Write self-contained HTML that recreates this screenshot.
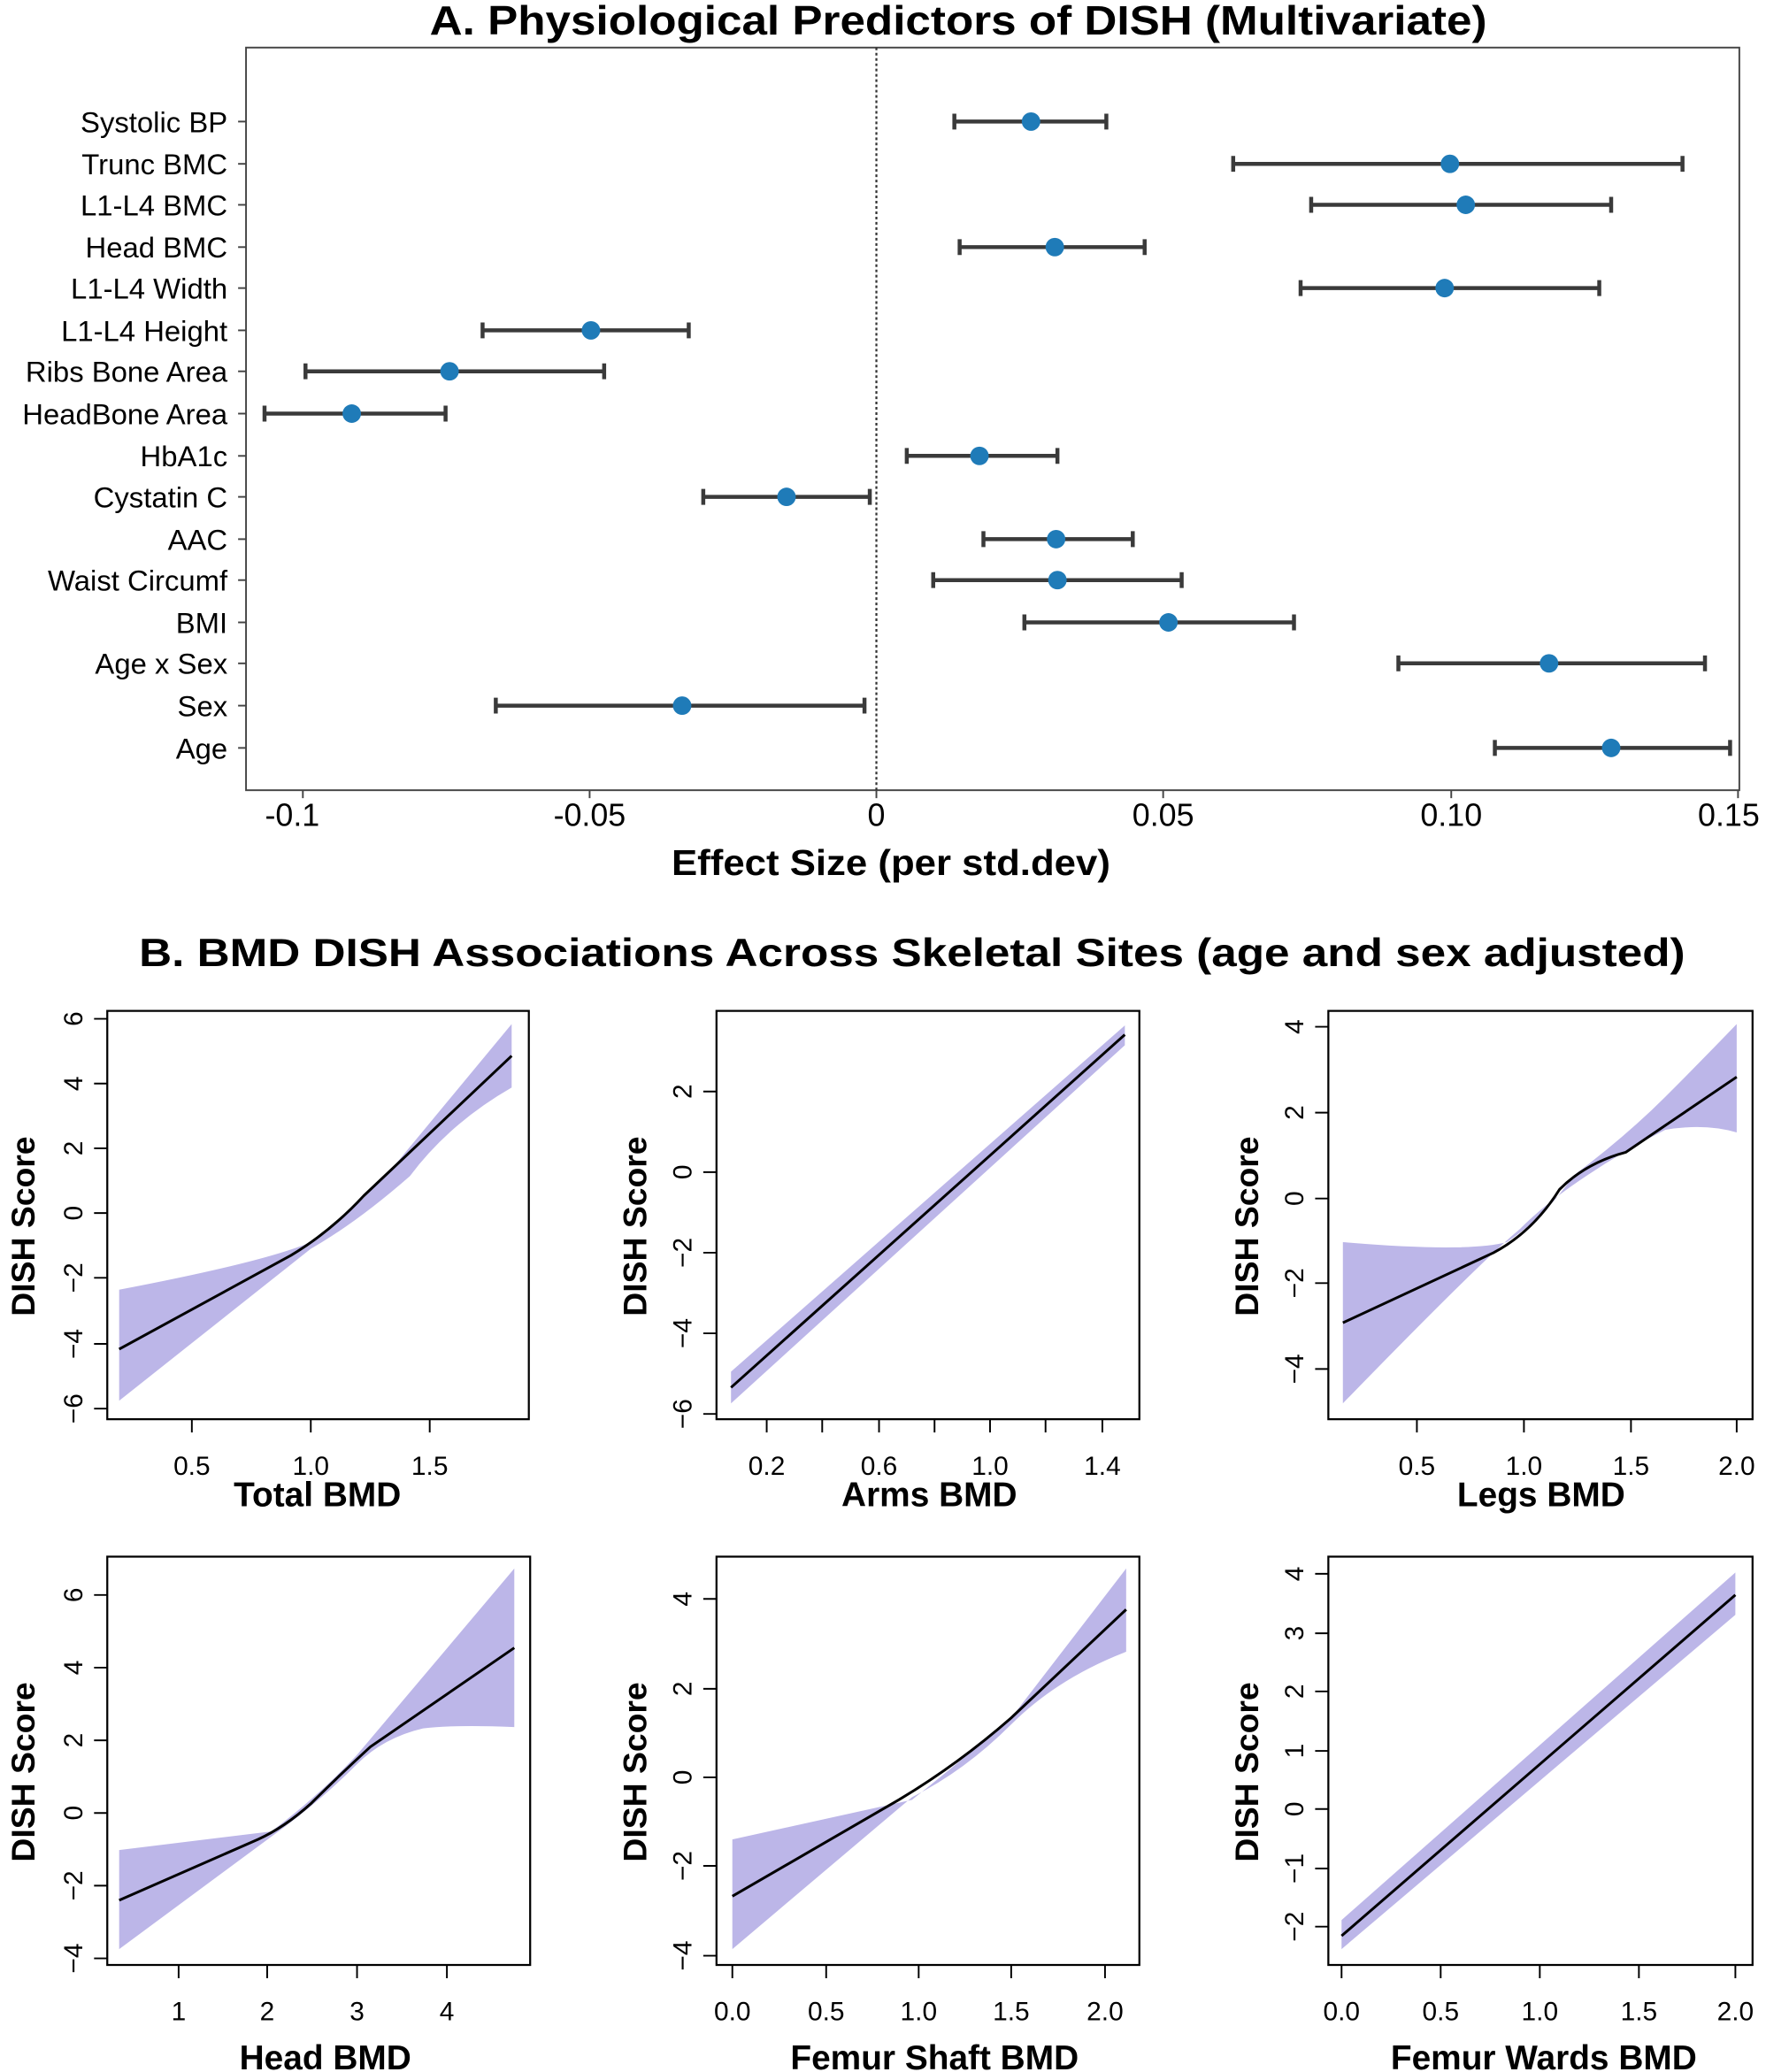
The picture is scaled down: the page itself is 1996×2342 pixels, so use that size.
<!DOCTYPE html>
<html><head><meta charset="utf-8"><style>html,body{margin:0;padding:0;background:#fff}svg{display:block}</style></head><body>
<svg xmlns="http://www.w3.org/2000/svg" width="1996" height="2342" viewBox="0 0 1336 1568" font-family="Liberation Sans, Arial, sans-serif">
<rect width="1336" height="1568" fill="#fff"/>
<text x="725" y="26" font-size="31" font-weight="bold" text-anchor="middle" textLength="800" lengthAdjust="spacingAndGlyphs">A. Physiological Predictors of DISH (Multivariate)</text>
<rect x="186" y="36" width="1130" height="562" fill="none" stroke="#444" stroke-width="1.3"/>
<line x1="663" y1="36" x2="663" y2="598" stroke="#333" stroke-width="1.5" stroke-dasharray="2,2"/>
<g stroke="#444" stroke-width="1.3">
<line x1="229" y1="598" x2="229" y2="604"/><line x1="446" y1="598" x2="446" y2="604"/><line x1="663" y1="598" x2="663" y2="604"/><line x1="880" y1="598" x2="880" y2="604"/><line x1="1098" y1="598" x2="1098" y2="604"/><line x1="1315" y1="598" x2="1315" y2="604"/>
</g>
<g font-size="24" text-anchor="middle">
<text x="221" y="625">-0.1</text><text x="446" y="625">-0.05</text><text x="663" y="625">0</text><text x="880" y="625">0.05</text><text x="1098" y="625">0.10</text><text x="1308" y="625">0.15</text>
</g>
<text x="674" y="662" font-size="27" font-weight="bold" text-anchor="middle" textLength="332" lengthAdjust="spacingAndGlyphs">Effect Size (per std.dev)</text>

<g font-size="22" text-anchor="end">
<text x="172" y="100">Systolic BP</text>
<text x="172" y="132">Trunc BMC</text>
<text x="172" y="163">L1-L4 BMC</text>
<text x="172" y="195">Head BMC</text>
<text x="172" y="226">L1-L4 Width</text>
<text x="172" y="258">L1-L4 Height</text>
<text x="172" y="289">Ribs Bone Area</text>
<text x="172" y="321">HeadBone Area</text>
<text x="172" y="353">HbA1c</text>
<text x="172" y="384">Cystatin C</text>
<text x="172" y="416">AAC</text>
<text x="172" y="447">Waist Circumf</text>
<text x="172" y="479">BMI</text>
<text x="172" y="510">Age x Sex</text>
<text x="172" y="542">Sex</text>
<text x="172" y="574">Age</text>
</g>
<g stroke="#444" stroke-width="1.3">
<line x1="180" y1="92" x2="186" y2="92"/><line x1="180" y1="124" x2="186" y2="124"/><line x1="180" y1="155" x2="186" y2="155"/><line x1="180" y1="187" x2="186" y2="187"/><line x1="180" y1="218" x2="186" y2="218"/><line x1="180" y1="250" x2="186" y2="250"/><line x1="180" y1="281" x2="186" y2="281"/><line x1="180" y1="313" x2="186" y2="313"/><line x1="180" y1="345" x2="186" y2="345"/><line x1="180" y1="376" x2="186" y2="376"/><line x1="180" y1="408" x2="186" y2="408"/><line x1="180" y1="439" x2="186" y2="439"/><line x1="180" y1="471" x2="186" y2="471"/><line x1="180" y1="502" x2="186" y2="502"/><line x1="180" y1="534" x2="186" y2="534"/><line x1="180" y1="566" x2="186" y2="566"/>
</g>
<g stroke="#3a3a3a" stroke-width="3" fill="none">
<path d="M722 92H837M722 86V98M837 86V98"/>
<path d="M933 124H1273M933 118V130M1273 118V130"/>
<path d="M992 155H1219M992 149V161M1219 149V161"/>
<path d="M726 187H866M726 181V193M866 181V193"/>
<path d="M984 218H1210M984 212V224M1210 212V224"/>
<path d="M365 250H521M365 244V256M521 244V256"/>
<path d="M231 281H457M231 275V287M457 275V287"/>
<path d="M200 313H337M200 307V319M337 307V319"/>
<path d="M686 345H800M686 339V351M800 339V351"/>
<path d="M532 376H658M532 370V382M658 370V382"/>
<path d="M744 408H857M744 402V414M857 402V414"/>
<path d="M706 439H894M706 433V445M894 433V445"/>
<path d="M775 471H979M775 465V477M979 465V477"/>
<path d="M1058 502H1290M1058 496V508M1290 496V508"/>
<path d="M375 534H654M375 528V540M654 528V540"/>
<path d="M1131 566H1309M1131 560V572M1309 560V572"/>
</g>
<g fill="#1f7bb8">
<circle cx="780" cy="92" r="7"/><circle cx="1097" cy="124" r="7"/><circle cx="1109" cy="155" r="7"/><circle cx="798" cy="187" r="7"/><circle cx="1093" cy="218" r="7"/><circle cx="447" cy="250" r="7"/><circle cx="340" cy="281" r="7"/><circle cx="266" cy="313" r="7"/><circle cx="741" cy="345" r="7"/><circle cx="595" cy="376" r="7"/><circle cx="799" cy="408" r="7"/><circle cx="800" cy="439" r="7"/><circle cx="884" cy="471" r="7"/><circle cx="1172" cy="502" r="7"/><circle cx="516" cy="534" r="7"/><circle cx="1219" cy="566" r="7"/>
</g>

<text x="690" y="731" font-size="30" font-weight="bold" text-anchor="middle" textLength="1170" lengthAdjust="spacingAndGlyphs">B. BMD DISH Associations Across Skeletal Sites (age and sex adjusted)</text>

<g font-size="20">
<!-- Plot 1 -->
<path d="M90 976 Q200 955 235 940 Q270 915 300 880 L387 775 L387 823 Q340 850 310 890 Q270 925 235 945 L90 1060Z" fill="#bcb6e8"/>
<path d="M90 1021 L220 950 Q250 932 275 905 L387 799" fill="none" stroke="#000" stroke-width="2"/>
<rect x="81" y="765" width="319" height="309" fill="none" stroke="#000" stroke-width="1.5"/>
<g stroke="#000" stroke-width="1.3"><path d="M145 1074v10M235 1074v10M325 1074v10M81 771h-10M81 820h-10M81 869h-10M81 918h-10M81 967h-10M81 1017h-10M81 1066h-10"/></g>
<g text-anchor="middle"><text x="145" y="1116">0.5</text><text x="235" y="1116">1.0</text><text x="325" y="1116">1.5</text></g>
<g text-anchor="middle"><text transform="translate(62,771) rotate(-90)">6</text><text transform="translate(62,820) rotate(-90)">4</text><text transform="translate(62,869) rotate(-90)">2</text><text transform="translate(62,918) rotate(-90)">0</text><text transform="translate(62,967) rotate(-90)">−2</text><text transform="translate(62,1017) rotate(-90)">−4</text><text transform="translate(62,1066) rotate(-90)">−6</text></g>
<text x="240" y="1140" font-size="26" font-weight="bold" text-anchor="middle">Total BMD</text>
<text transform="translate(26,928) rotate(-90)" font-size="25" font-weight="bold" text-anchor="middle">DISH Score</text>

<!-- Plot 2 -->
<path d="M553 1038 L851 776 L851 791 L553 1062Z" fill="#bcb6e8"/>
<path d="M553 1050 L851 783" fill="none" stroke="#000" stroke-width="2"/>
<rect x="542" y="765" width="320" height="309" fill="none" stroke="#000" stroke-width="1.5"/>
<g stroke="#000" stroke-width="1.3"><path d="M580 1074v10M622 1074v10M665 1074v10M707 1074v10M749 1074v10M791 1074v10M834 1074v10M542 826h-10M542 887h-10M542 948h-10M542 1009h-10M542 1070h-10"/></g>
<g text-anchor="middle"><text x="580" y="1116">0.2</text><text x="665" y="1116">0.6</text><text x="749" y="1116">1.0</text><text x="834" y="1116">1.4</text></g>
<g text-anchor="middle"><text transform="translate(523,826) rotate(-90)">2</text><text transform="translate(523,887) rotate(-90)">0</text><text transform="translate(523,948) rotate(-90)">−2</text><text transform="translate(523,1009) rotate(-90)">−4</text><text transform="translate(523,1070) rotate(-90)">−6</text></g>
<text x="703" y="1140" font-size="26" font-weight="bold" text-anchor="middle">Arms BMD</text>
<text transform="translate(489,928) rotate(-90)" font-size="25" font-weight="bold" text-anchor="middle">DISH Score</text>

<!-- Plot 3 -->
<path d="M1016 940 Q1110 948 1140 940 Q1170 920 1190 890 Q1230 860 1260 830 Q1290 800 1314 775 L1314 857 Q1290 850 1260 855 Q1230 870 1200 890 Q1170 910 1150 930 Q1120 955 1016 1062Z" fill="#bcb6e8"/>
<path d="M1016 1001 L1130 948 Q1160 932 1180 900 Q1200 880 1230 872 L1314 815" fill="none" stroke="#000" stroke-width="2"/>
<rect x="1005" y="765" width="321" height="309" fill="none" stroke="#000" stroke-width="1.5"/>
<g stroke="#000" stroke-width="1.3"><path d="M1072 1074v10M1153 1074v10M1234 1074v10M1314 1074v10M1005 777h-10M1005 842h-10M1005 907h-10M1005 971h-10M1005 1036h-10"/></g>
<g text-anchor="middle"><text x="1072" y="1116">0.5</text><text x="1153" y="1116">1.0</text><text x="1234" y="1116">1.5</text><text x="1314" y="1116">2.0</text></g>
<g text-anchor="middle"><text transform="translate(986,777) rotate(-90)">4</text><text transform="translate(986,842) rotate(-90)">2</text><text transform="translate(986,907) rotate(-90)">0</text><text transform="translate(986,971) rotate(-90)">−2</text><text transform="translate(986,1036) rotate(-90)">−4</text></g>
<text x="1166" y="1140" font-size="26" font-weight="bold" text-anchor="middle">Legs BMD</text>
<text transform="translate(952,928) rotate(-90)" font-size="25" font-weight="bold" text-anchor="middle">DISH Score</text>

<!-- Plot 4 -->
<path d="M90 1400 L205 1386 Q240 1360 270 1328 L389 1187 L389 1307 Q345 1305 320 1308 Q290 1315 270 1335 Q240 1365 205 1390 L90 1475Z" fill="#bcb6e8"/>
<path d="M90 1438 L195 1392 Q215 1383 235 1365 Q255 1345 280 1322 L389 1247" fill="none" stroke="#000" stroke-width="2"/>
<rect x="81" y="1178" width="320" height="309" fill="none" stroke="#000" stroke-width="1.5"/>
<g stroke="#000" stroke-width="1.3"><path d="M135 1487v10M202 1487v10M270 1487v10M338 1487v10M81 1207h-10M81 1262h-10M81 1317h-10M81 1372h-10M81 1427h-10M81 1482h-10"/></g>
<g text-anchor="middle"><text x="135" y="1529">1</text><text x="202" y="1529">2</text><text x="270" y="1529">3</text><text x="338" y="1529">4</text></g>
<g text-anchor="middle"><text transform="translate(62,1207) rotate(-90)">6</text><text transform="translate(62,1262) rotate(-90)">4</text><text transform="translate(62,1317) rotate(-90)">2</text><text transform="translate(62,1372) rotate(-90)">0</text><text transform="translate(62,1427) rotate(-90)">−2</text><text transform="translate(62,1482) rotate(-90)">−4</text></g>
<text x="246" y="1566" font-size="26" font-weight="bold" text-anchor="middle">Head BMD</text>
<text transform="translate(26,1341) rotate(-90)" font-size="25" font-weight="bold" text-anchor="middle">DISH Score</text>

<!-- Plot 5 -->
<path d="M554 1392 L690 1362 Q730 1330 765 1300 L852 1187 L852 1250 Q800 1270 765 1305 Q730 1340 690 1360 L554 1475Z" fill="#bcb6e8"/>
<path d="M554 1435 L680 1362 Q725 1335 765 1300 L852 1218" fill="none" stroke="#000" stroke-width="2"/>
<rect x="542" y="1178" width="320" height="309" fill="none" stroke="#000" stroke-width="1.5"/>
<g stroke="#000" stroke-width="1.3"><path d="M554 1487v10M625 1487v10M695 1487v10M765 1487v10M836 1487v10M542 1210h-10M542 1278h-10M542 1345h-10M542 1412h-10M542 1480h-10"/></g>
<g text-anchor="middle"><text x="554" y="1529">0.0</text><text x="625" y="1529">0.5</text><text x="695" y="1529">1.0</text><text x="765" y="1529">1.5</text><text x="836" y="1529">2.0</text></g>
<g text-anchor="middle"><text transform="translate(523,1210) rotate(-90)">4</text><text transform="translate(523,1278) rotate(-90)">2</text><text transform="translate(523,1345) rotate(-90)">0</text><text transform="translate(523,1412) rotate(-90)">−2</text><text transform="translate(523,1480) rotate(-90)">−4</text></g>
<text x="707" y="1566" font-size="26" font-weight="bold" text-anchor="middle">Femur Shaft BMD</text>
<text transform="translate(489,1341) rotate(-90)" font-size="25" font-weight="bold" text-anchor="middle">DISH Score</text>

<!-- Plot 6 -->
<path d="M1015 1453 L1313 1190 L1313 1222 L1015 1475Z" fill="#bcb6e8"/>
<path d="M1015 1465 L1313 1207" fill="none" stroke="#000" stroke-width="2"/>
<rect x="1005" y="1178" width="321" height="309" fill="none" stroke="#000" stroke-width="1.5"/>
<g stroke="#000" stroke-width="1.3"><path d="M1015 1487v10M1090 1487v10M1165 1487v10M1240 1487v10M1313 1487v10M1005 1191h-10M1005 1236h-10M1005 1280h-10M1005 1325h-10M1005 1369h-10M1005 1414h-10M1005 1458h-10"/></g>
<g text-anchor="middle"><text x="1015" y="1529">0.0</text><text x="1090" y="1529">0.5</text><text x="1165" y="1529">1.0</text><text x="1240" y="1529">1.5</text><text x="1313" y="1529">2.0</text></g>
<g text-anchor="middle"><text transform="translate(986,1191) rotate(-90)">4</text><text transform="translate(986,1236) rotate(-90)">3</text><text transform="translate(986,1280) rotate(-90)">2</text><text transform="translate(986,1325) rotate(-90)">1</text><text transform="translate(986,1369) rotate(-90)">0</text><text transform="translate(986,1414) rotate(-90)">−1</text><text transform="translate(986,1458) rotate(-90)">−2</text></g>
<text x="1168" y="1566" font-size="26" font-weight="bold" text-anchor="middle">Femur Wards BMD</text>
<text transform="translate(952,1341) rotate(-90)" font-size="25" font-weight="bold" text-anchor="middle">DISH Score</text>
</g>
</svg>
</body></html>
